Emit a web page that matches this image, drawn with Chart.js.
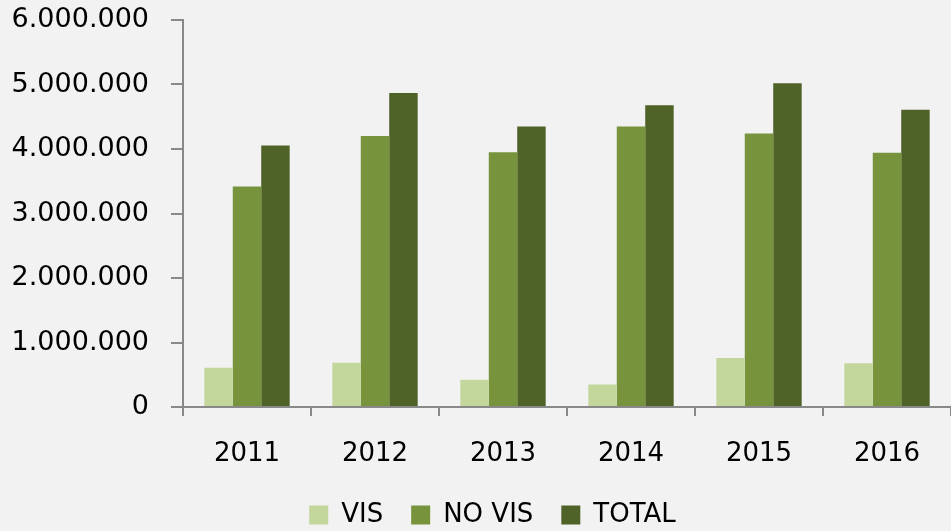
<!DOCTYPE html>
<html>
<head>
<meta charset="utf-8">
<script src="https://cdn.jsdelivr.net/npm/chart.js@4/dist/chart.umd.min.js"></script>
<style>
  html, body { margin: 0; padding: 0; background: #f2f2f2; overflow: hidden; }
  #wrap { position: relative; width: 951px; height: 538px; }
</style>
</head>
<body>
<div id="wrap"><canvas id="chart"></canvas></div>
<script>
// --- Data ---
const years = ['2011', '2012', '2013', '2014', '2015', '2016'];
const visValues = [609000, 686000, 422000, 349000, 758000, 680000];
const noVisValues = [3420000, 4200000, 3950000, 4350000, 4240000, 3940000];
const totalValues = [4056000, 4870000, 4350000, 4680000, 5020000, 4610000];
const yTicks = [0, 1000000, 2000000, 3000000, 4000000, 5000000, 6000000];

const axisColor = '#898989';

// thousands with dots, like 6.000.000
function fmt(v) {
    return String(v).replace(/\B(?=(\d{3})+(?!\d))/g, '.');
}

// legend sits a little right of centre in the original
const legendShift = {
    id: 'legendShift',
    afterLayout(chart) {
        chart.legend.left += 17;
        chart.legend.right += 17;
    }
};

new Chart(document.getElementById('chart'), {
    type: 'bar',
    data: {
        labels: years,
        datasets: [
            { label: 'VIS', data: visValues, backgroundColor: '#c3d69b' },
            { label: 'NO VIS', data: noVisValues, backgroundColor: '#77933c' },
            { label: 'TOTAL', data: totalValues, backgroundColor: '#4f6228' }
        ]
    },
    plugins: [legendShift],
    options: {
        responsive: true,
        maintainAspectRatio: false,
        animation: false,
        categoryPercentage: 0.667,
        barPercentage: 1,
        layout: { padding: { top: 20, left: 0, right: 0, bottom: 0 } },
        plugins: {
            tooltip: { enabled: false },
            legend: {
                position: 'bottom',
                labels: {
                    color: '#000',
                    font: { family: 'DejaVu Sans', size: 26 },
                    boxWidth: 19,
                    boxHeight: 19,
                    padding: 28
                }
            }
        },
        scales: {
            x: {
                grid: {
                    drawOnChartArea: false,
                    color: axisColor,
                    lineWidth: 2,
                    tickLength: 9
                },
                border: { color: axisColor, width: 2 },
                ticks: {
                    color: '#000',
                    font: { family: 'DejaVu Sans', size: 26 },
                    padding: 23
                },
                afterFit: (scale) => { scale.height = 67; }
            },
            y: {
                min: 0,
                max: 6000000,
                afterBuildTicks: (scale) => { scale.ticks = yTicks.map(v => ({ value: v })); },
                grid: {
                    drawOnChartArea: false,
                    color: axisColor,
                    lineWidth: 2,
                    tickLength: 12
                },
                border: { color: axisColor, width: 2 },
                ticks: {
                    color: '#000',
                    font: { family: 'DejaVu Sans', size: 27 },
                    padding: 22,
                    callback: (v) => fmt(v)
                },
                afterFit: (scale) => {
                    scale.width = 183;
                    scale.paddingTop = 0;
                    scale.paddingBottom = 0;
                }
            }
        }
    }
});
</script>
</body>
</html>
